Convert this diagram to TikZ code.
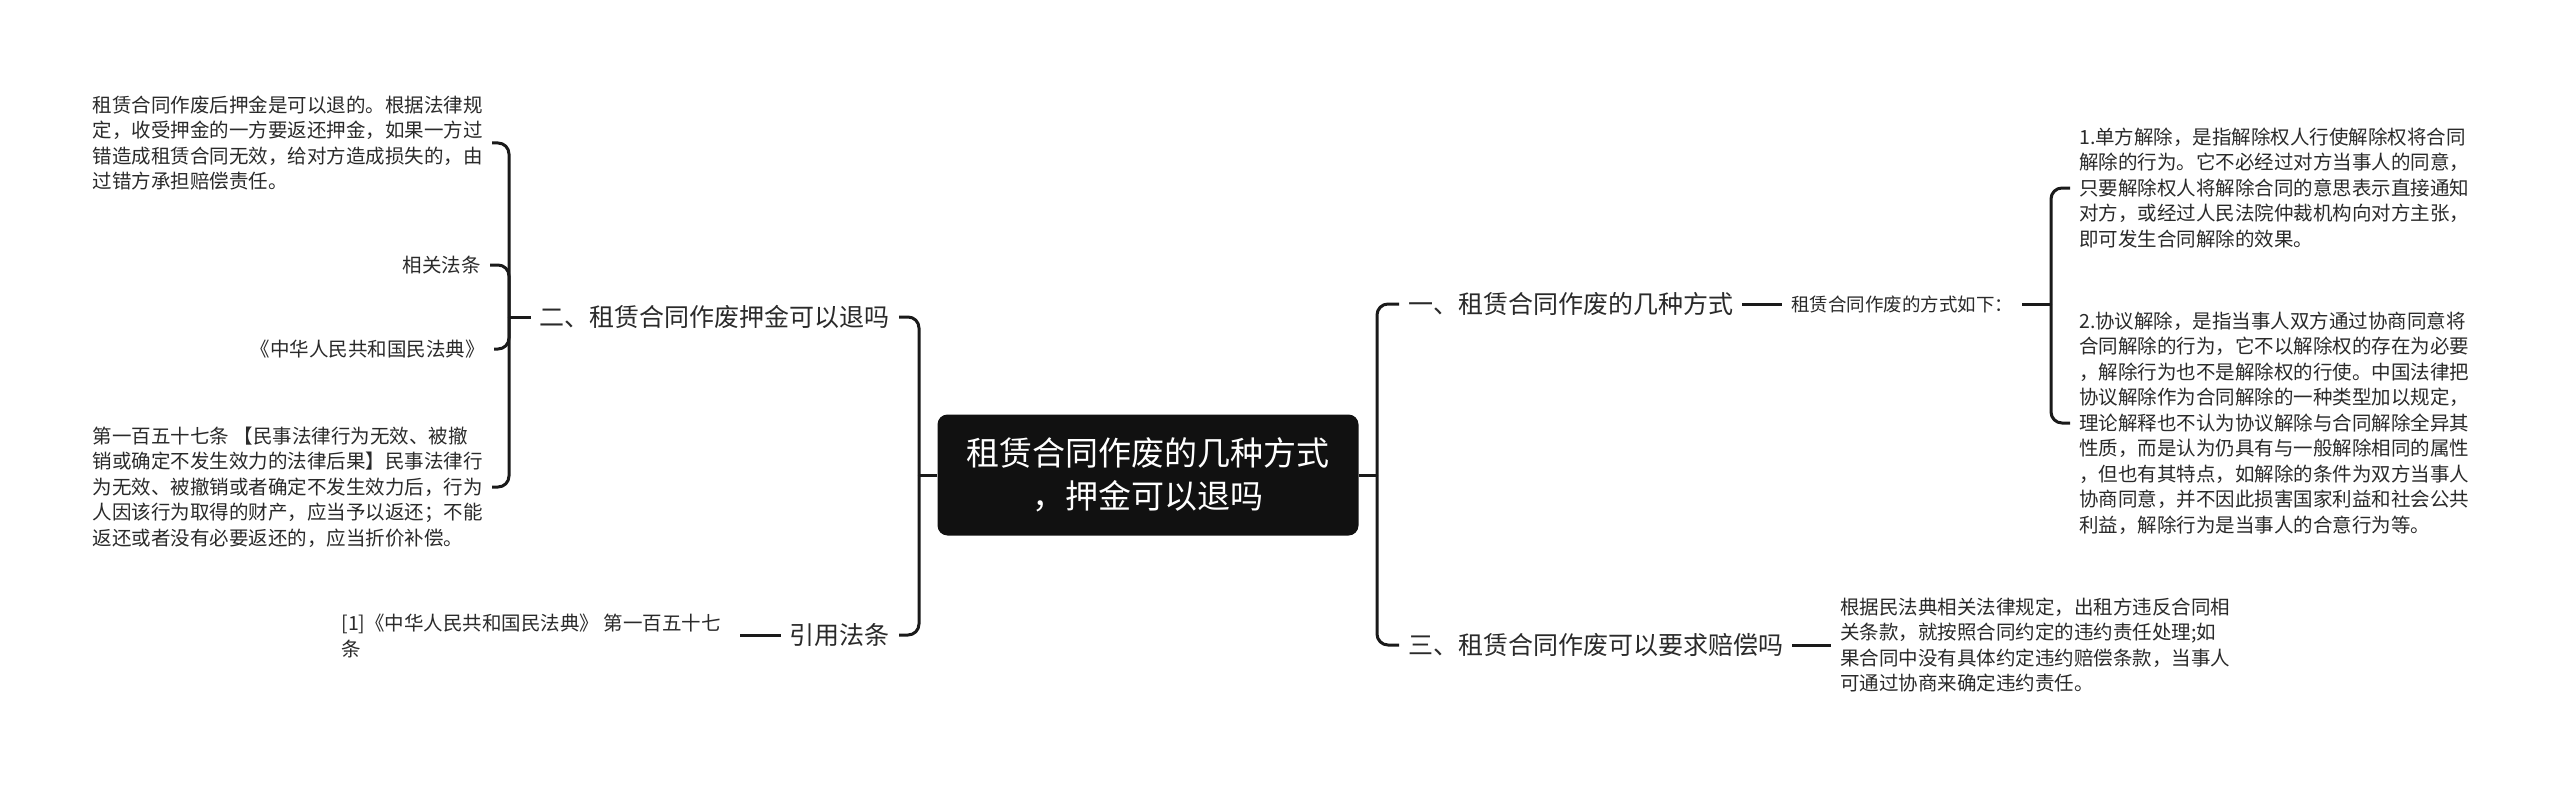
\documentclass[tikz,border=0pt]{standalone}
\usepackage{fontspec}
\newfontfamily\cjk{Noto Sans CJK SC}
\definecolor{txt}{HTML}{2A2A2A}
\definecolor{ln}{HTML}{1A1A1A}
\definecolor{rootfill}{HTML}{111111}
\begin{document}
\begin{tikzpicture}[x=1pt,y=-1pt,
  conn/.style={line width=3pt, draw=ln, rounded corners=11pt},
  mmsmall/.style={font=\cjk\fontsize{19.5pt}{25.5pt}\selectfont, text=txt, inner sep=9pt, align=left},
  mmmid/.style={font=\cjk\fontsize{18.5pt}{24pt}\selectfont, text=txt, inner sep=9pt},
  mmbranch/.style={font=\cjk\fontsize{25pt}{30pt}\selectfont, text=txt, inner sep=9pt},
  mmroot/.style={font=\cjk\fontsize{33pt}{42.5pt}\selectfont, text=white, fill=rootfill,
    rounded corners=10pt, minimum width=421pt, minimum height=121pt, align=center, inner sep=0pt}]
\useasboundingbox[fill=white] (0,0) rectangle (2560,789);

% root
\node[mmroot] (root) at (1148,475) {租赁合同作废的几种方式\\，押金可以退吗};

% trunks
\coordinate (tL) at (919,475);
\coordinate (tR) at (1377,475);

% left branches
\node[mmbranch, anchor=east] (n2) at (899,317) {二、租赁合同作废押金可以退吗};
\node[mmbranch, anchor=east] (cite) at (899,635) {引用法条};

% right branches
\node[mmbranch, anchor=west] (n1) at (1399,304) {一、租赁合同作废的几种方式};
\node[mmbranch, anchor=west] (n3) at (1399,645) {三、租赁合同作废可以要求赔偿吗};

% children of n2
\coordinate (bL) at (509,317);
\node[mmsmall, anchor=east] (L1) at (492,143) {租赁合同作废后押金是可以退的。根据法律规\\定，收受押金的一方要返还押金，如果一方过\\错造成租赁合同无效，给对方造成损失的，由\\过错方承担赔偿责任。};
\node[mmsmall, anchor=east] (L2) at (490,265) {相关法条};
\node[mmsmall, anchor=east] (L3) at (494,349) {《中华人民共和国民法典》};
\node[mmsmall, anchor=east] (L4) at (492,487) {第一百五十七条 【民事法律行为无效、被撤\\销或确定不发生效力的法律后果】民事法律行\\为无效、被撤销或者确定不发生效力后，行为\\人因该行为取得的财产，应当予以返还；不能\\返还或者没有必要返还的，应当折价补偿。};

% child of cite
\node[mmsmall, anchor=east, inner xsep=19pt] (C1) at (740,636) {[1]《中华人民共和国民法典》 第一百五十七\\条};

% child of n1
\node[mmmid, anchor=west] (n1a) at (1782,304) {租赁合同作废的方式如下：};
\coordinate (bR) at (2051,304);
\node[mmsmall, anchor=west] (R1) at (2070,188) {1.单方解除，是指解除权人行使解除权将合同\\解除的行为。它不必经过对方当事人的同意，\\只要解除权人将解除合同的意思表示直接通知\\对方，或经过人民法院仲裁机构向对方主张，\\即可发生合同解除的效果。};
\node[mmsmall, anchor=west] (R2) at (2070,423) {2.协议解除，是指当事人双方通过协商同意将\\合同解除的行为，它不以解除权的存在为必要\\，解除行为也不是解除权的行使。中国法律把\\协议解除作为合同解除的一种类型加以规定，\\理论解释也不认为协议解除与合同解除全异其\\性质，而是认为仍具有与一般解除相同的属性\\，但也有其特点，如解除的条件为双方当事人\\协商同意，并不因此损害国家利益和社会公共\\利益，解除行为是当事人的合意行为等。};

% child of n3
\node[mmsmall, anchor=west] (T1) at (1831,645) {根据民法典相关法律规定，出租方违反合同相\\关条款，就按照合同约定的违约责任处理;如\\果合同中没有具体约定违约赔偿条款，当事人\\可通过协商来确定违约责任。};

% connectors: root
\draw[conn] (root.west) -- (tL);
\draw[conn] (tL) |- (n2.east);
\draw[conn] (tL) |- (cite.east);
\draw[conn] (root.east) -- (tR);
\draw[conn] (tR) |- (n1.west);
\draw[conn] (tR) |- (n3.west);

% n2 children
\draw[conn] (n2.west) -- (bL);
\draw[conn] (bL) |- (L1.east);
\draw[conn] (bL) |- (L2.east);
\draw[conn] (bL) |- (L3.east);
\draw[conn] (bL) |- (L4.east);

% cite child
\draw[conn] (cite.west) -- (C1.east |- cite.west);

% n1 children
\draw[conn] (n1.east) -- (n1a.west);
\draw[conn] (n1a.east) -- (bR);
\draw[conn] (bR) |- (R1.west);
\draw[conn] (bR) |- (R2.west);

% n3 child
\draw[conn] (n3.east) -- (T1.west |- n3.east);
\end{tikzpicture}
\end{document}
